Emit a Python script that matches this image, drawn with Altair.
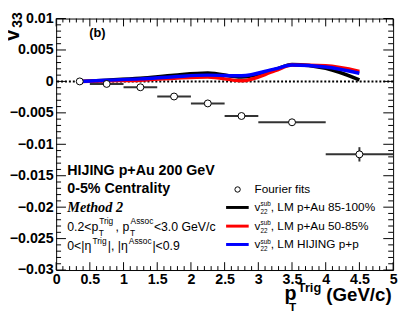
import altair as alt
import pandas as pd
import numpy as np

# ---------------- data ----------------
fx = [0.35, 0.75, 1.25, 1.75, 2.25, 2.75, 3.5, 4.5]
fy = [0.0, -0.0004, -0.00093, -0.0024, -0.0035, -0.0055, -0.0065, -0.0116]
fxlo = [0.35, 0.5, 1.0, 1.5, 2.0, 2.5, 3.0, 4.0]
fxhi = [0.35, 1.0, 1.5, 2.0, 2.5, 3.0, 4.0, 5.0]
fyerr = [0.0, 0.0001, 0.0001, 0.0001, 0.0001, 0.0001, 0.0002, 0.00114]

cx = [0.35, 0.75, 1.25, 1.75, 2.25, 2.75, 3.25, 3.5, 4.0, 4.5]
black_y = [0.0, 0.0002, 0.0005, 0.001, 0.00135, 0.0007, 0.0019, 0.0027, 0.0021, 0.00026]
red_y = [0.0, 0.0001, 0.0002, 0.0005, 0.0007, 0.0001, 0.0017, 0.0026, 0.0025, 0.0016]
blue_y = [0.0, 0.0002, 0.0004, 0.00075, 0.001, 0.0009, 0.002, 0.0026, 0.0023, 0.0013]

x_labels = [0, 0.5, 1, 1.5, 2, 2.5, 3, 3.5, 4, 4.5, 5]
y_labels = [-0.03, -0.025, -0.02, -0.015, -0.01, -0.005, 0, 0.005, 0.01]
x_minor = [round(v * 0.1, 2) for v in range(0, 51) if v % 5 != 0]
y_minor = [round(v * 0.001, 4) for v in range(-30, 11) if v % 5 != 0]

W, H = 343, 256
FONT = "Liberation Sans"

xs = alt.Scale(domain=[0, 5], nice=False, zero=False)
ys = alt.Scale(domain=[-0.03, 0.01], nice=False, zero=False)
xaxis = alt.Axis(values=x_labels, format="~g", title=None, ticks=False, domain=False,
                 grid=False, labelFont=FONT, labelFontWeight="bold", labelFontSize=14.5,
                 labelColor="black", labelPadding=3, labelFlush=False, labelOverlap=False)
yaxis = alt.Axis(values=y_labels, format="~g", title=None, ticks=False, domain=False,
                 grid=False, labelFont=FONT, labelFontWeight="bold", labelFontSize=14.5,
                 labelColor="black", labelPadding=3, labelFlush=False, labelOverlap=False)


def X(f="x"):
    return alt.X(f"{f}:Q", scale=xs, axis=xaxis)


def Y(f="y"):
    return alt.Y(f"{f}:Q", scale=ys, axis=yaxis)


layers = []

# ticks
def xticks(vals, ln):
    d = pd.DataFrame({"x": vals})
    b = alt.Chart(d).mark_rule(color="black", strokeWidth=1).encode(
        x=X(), y=alt.value(H), y2=alt.value(H - ln))
    t = alt.Chart(d).mark_rule(color="black", strokeWidth=1).encode(
        x=X(), y=alt.value(0), y2=alt.value(ln))
    return [b, t]


def yticks(vals, ln):
    d = pd.DataFrame({"y": vals})
    l = alt.Chart(d).mark_rule(color="black", strokeWidth=1).encode(
        y=Y(), x=alt.value(0), x2=alt.value(ln))
    r = alt.Chart(d).mark_rule(color="black", strokeWidth=1).encode(
        y=Y(), x=alt.value(W), x2=alt.value(W - ln))
    return [l, r]


layers += xticks(x_labels, 8) + xticks(x_minor, 4)
layers += yticks(y_labels, 10) + yticks(y_minor, 5)

# zero dotted line
layers.append(alt.Chart(pd.DataFrame({"y": [0.0]})).mark_rule(
    color="black", strokeWidth=2, strokeDash=[2, 2]).encode(y=Y()))

# curves
for ys_, col in [(black_y, "black"), (red_y, "#ff0000"), (blue_y, "#0000ff")]:
    d = pd.DataFrame({"x": cx, "y": ys_})
    layers.append(alt.Chart(d).mark_line(color=col, strokeWidth=3.5, interpolate="monotone")
                  .encode(x=X(), y=Y()))

# fourier points with error bars
fd = pd.DataFrame({"x": fx, "y": fy, "xlo": fxlo, "xhi": fxhi,
                   "ylo": [a - b for a, b in zip(fy, fyerr)],
                   "yhi": [a + b for a, b in zip(fy, fyerr)]})
layers.append(alt.Chart(fd).mark_rule(color="#333333", strokeWidth=2).encode(
    x=X("xlo"), x2="xhi:Q", y=Y()))
layers.append(alt.Chart(fd).mark_rule(color="#333333", strokeWidth=2).encode(
    x=X(), y=Y("ylo"), y2="yhi:Q"))
layers.append(alt.Chart(fd).mark_point(shape="circle", filled=True, fill="white", stroke="black",
                                       strokeWidth=1, size=50, opacity=1).encode(x=X(), y=Y()))


# ---------------- annotations ----------------
def label(txt, x, y, size, weight="normal", style="normal", font=FONT, align="left",
          baseline="alphabetic", angle=0, color="black"):
    kw = dict(font=font, fontSize=size, fontWeight=weight, fontStyle=style, align=align,
              baseline=baseline, color=color)
    if angle:
        kw["angle"] = angle
    return alt.Chart(pd.DataFrame({"t": [txt]})).mark_text(**kw).encode(
        x=alt.value(x), y=alt.value(y), text="t:N")


layers.append(label("(b)", 33.7, 19, 13, "bold"))
# y title
layers.append(label("v", -43.5, 17, 20, "bold", align="center", baseline="middle", angle=270))
layers.append(label("33", -38.5, 1.5, 14, "bold", align="center", baseline="middle", angle=270))
# x title
layers.append(label("p", 232.5, 287, 20, "bold"))
layers.append(label("Trig", 246, 278, 13, "bold"))
layers.append(label("T", 237, 298, 12, "bold"))
layers.append(label("(GeV/c)", 275, 288, 19, "bold"))

# info block
layers.append(label("HIJING p+Au 200 GeV", 11.3, 159, 14.5, "bold"))
layers.append(label("0-5% Centrality", 11.3, 177.5, 14.5, "bold"))
layers.append(label("Method 2", 11.3, 197.3, 14.5, "bold", "italic", font="Liberation Serif"))
layers.append(label("0.2<p", 11.3, 216.3, 12.5))
layers.append(label("T", 43.3, 221, 8.5))
layers.append(label("Trig", 43.8, 209, 8.5))
layers.append(label(", p", 60.5, 216.3, 12.5))
layers.append(label("T", 75.3, 221, 8.5))
layers.append(label("Assoc", 75.8, 209, 8.5))
layers.append(label("<3.0 GeV/c", 99.5, 216.3, 12.5))
layers.append(label("0<|η", 11.3, 235.7, 12.5))
layers.append(label("Trig", 37, 229, 8.5))
layers.append(label("|, |η", 52.5, 235.7, 12.5))
layers.append(label("Assoc", 74, 229, 8.5))
layers.append(label("|<0.9", 98, 235.7, 12.5))

# legend
layers.append(alt.Chart(pd.DataFrame({"t": ["Fourier fits"]})).mark_point(
    shape="circle", filled=True, fill="white", stroke="black", strokeWidth=1, size=30, opacity=1
).encode(x=alt.value(184.7), y=alt.value(174)))
layers.append(label("Fourier fits", 202, 177.3, 12))
leg_rows = [("black", ", LM p+Au 85-100%", 192.3, 196),
            ("#ff0000", ", LM p+Au 50-85%", 211.3, 215),
            ("#0000ff", ", LM HIJING p+p", 230, 234)]
for col, txt, ly, by in leg_rows:
    layers.append(alt.Chart(pd.DataFrame({"t": [txt]})).mark_rule(color=col, strokeWidth=3).encode(
        x=alt.value(173), x2=alt.value(196), y=alt.value(ly)))
    layers.append(label("v", 202, by, 12))
    layers.append(label("sub", 208, by - 5, 6.5))
    layers.append(label("22", 208, by + 3, 6.5))
    layers.append(label(txt, 218.5, by, 12))

chart = alt.layer(*layers).properties(
    width=W, height=H,
    autosize=alt.AutoSizeParams(type="none"),
    padding={"left": 49, "top": 8, "right": 6, "bottom": 41},
).configure_view(stroke="black", strokeWidth=1)

chart.save("out.html", embed_options={"renderer": "svg", "actions": False})
